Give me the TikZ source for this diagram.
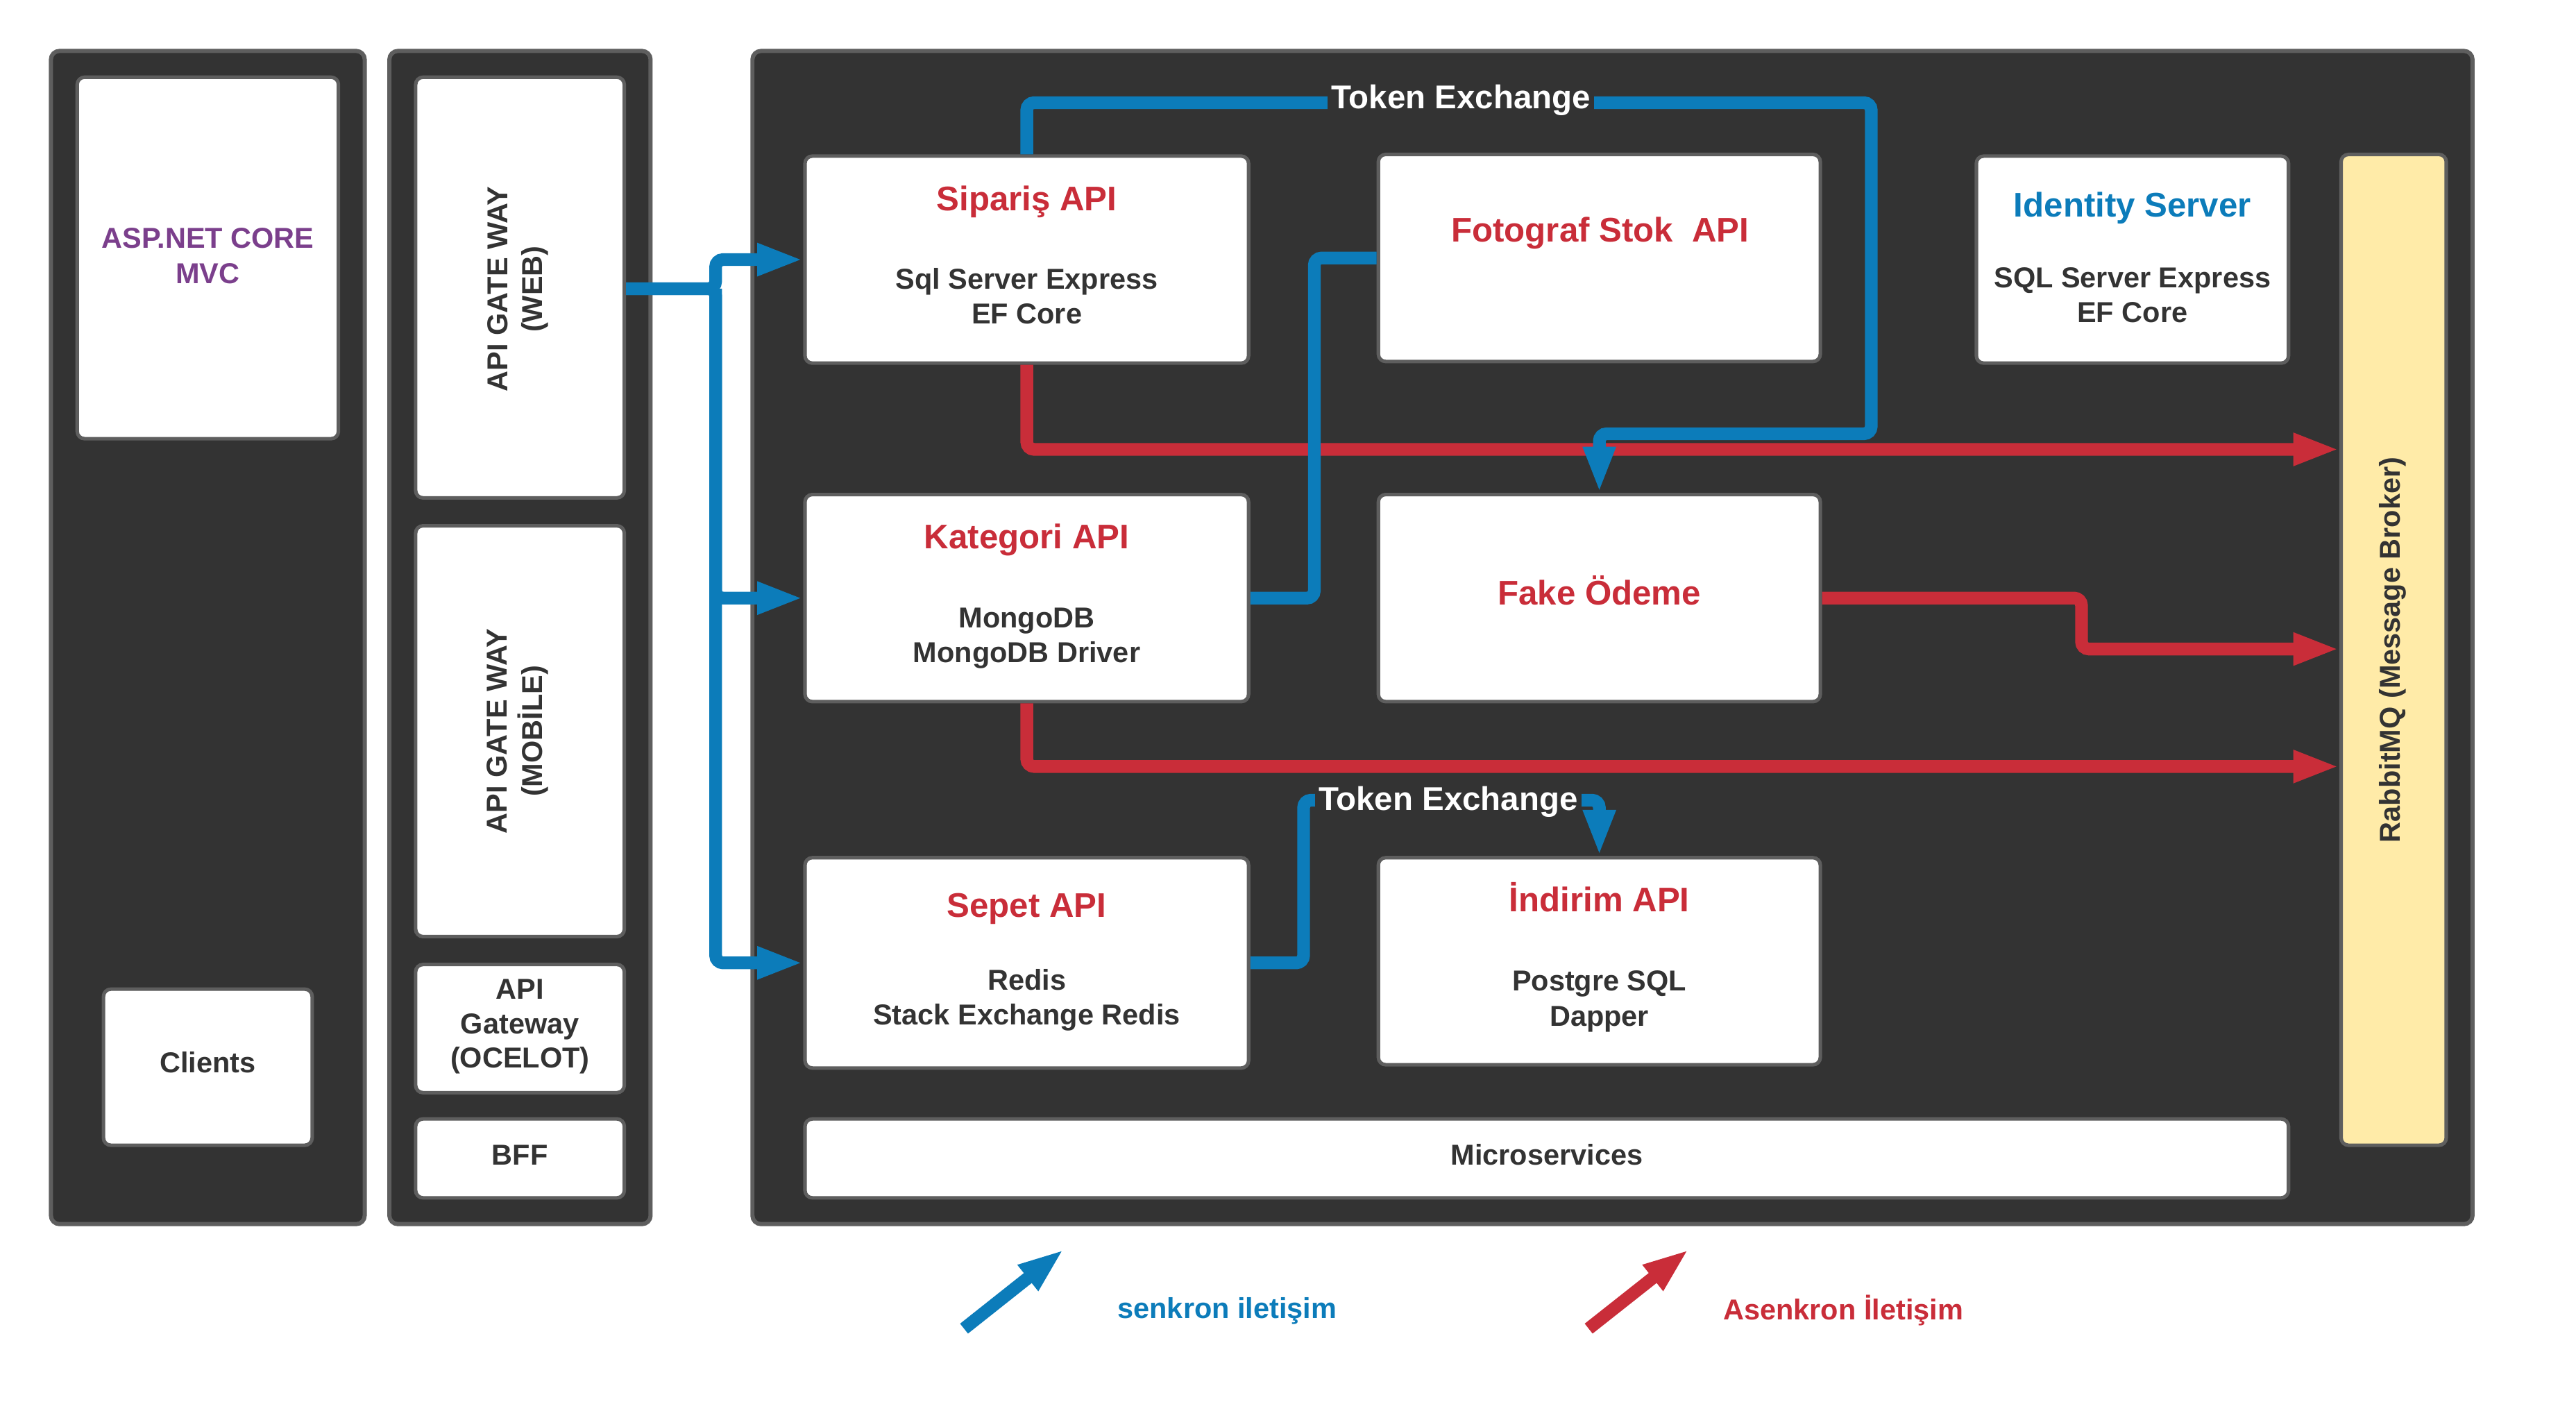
\documentclass[tikz,border=0pt]{standalone}
\usepackage{fontspec}
\setmainfont{Liberation Sans}
\usetikzlibrary{arrows.meta}
\definecolor{panelfill}{HTML}{333333}
\definecolor{edgegray}{HTML}{5E5E5E}
\definecolor{lred}{HTML}{C92D39}
\definecolor{lblue}{HTML}{0C7CBA}
\definecolor{lpurple}{HTML}{7B3F8C}
\definecolor{ltext}{HTML}{333333}
\definecolor{lyellow}{HTML}{FFEBA8}
\newlength\pxu
\setlength\pxu{0.02367cm}
\newcommand\fTitle{\fontsize{14}{17}\selectfont\bfseries}
\newcommand\fBody{\fontsize{11.8}{14.2}\selectfont\bfseries}
\newcommand\fToken{\fontsize{13.5}{16}\selectfont\bfseries}
\tikzset{
  panel/.style={draw=edgegray, line width=1.7pt, fill=panelfill, rounded corners=3.5pt, inner sep=0pt},
  wbox/.style={draw=edgegray, line width=1.45pt, fill=white, rounded corners=3pt, inner sep=0pt},
  ybox/.style={wbox, fill=lyellow},
  sz/.style 2 args={minimum width=#1\pxu, minimum height=#2\pxu},
  ttl/.style={font=\fTitle, text=lred, anchor=base, inner sep=0pt},
  bdy/.style={font=\fBody, text=ltext, anchor=base, inner sep=0pt},
  conn/.style={line width=5.2pt, rounded corners=3pt},
  sync/.style={conn, draw=lblue},
  async/.style={conn, draw=lred},
  tip/.style={-{Triangle[length=18.9pt,width=12.2pt]}},
  tok/.style={font=\fToken, text=white, fill=panelfill, inner xsep=1.5pt, inner ysep=2pt, anchor=base},
}
\begin{document}
\begin{tikzpicture}[x=0.02367cm, y=-0.02367cm]
\fill[white] (0,0) rectangle (1568,853);
\useasboundingbox (0,0) rectangle (1568,853);

% panels
\node[panel, sz={191}{714}] (clientpanel) at (126.5,388) {};
\node[panel, sz={159}{714}] (gwpanel) at (316.5,388) {};
\node[panel, sz={1047}{714}] (mspanel) at (981.5,388) {};

% client column
\node[wbox, sz={159}{220}] (asp) at (126.5,157) {};
\node[bdy, text=lpurple] (aspL1) at (126.5,151) {ASP.NET CORE};
\node[bdy, text=lpurple] (aspL2) at (126.5,172.4) {MVC};
\node[wbox, sz={127}{95}] (clients) at (126.5,649.5) {};
\node[bdy] (clientsL) at (126.5,653) {Clients};

% gateway column
\node[wbox, sz={127}{256}] (web) at (316.5,175) {};
\node[bdy, rotate=90] (webL1) at (309,176) {API GATE WAY};
\node[bdy, rotate=90] (webL2) at (330,176) {(WEB)};
\node[wbox, sz={127}{250}] (mob) at (316.5,445) {};
\node[bdy, rotate=90] (mobL1) at (308.6,445) {API GATE WAY};
\node[bdy, rotate=90] (mobL2) at (330,445) {(MOBİLE)};
\node[wbox, sz={127}{78}] (ocelot) at (316.5,626) {};
\node[bdy] (ocL1) at (316.5,608) {API};
\node[bdy] (ocL2) at (316.5,629) {Gateway};
\node[bdy] (ocL3) at (316.5,650) {(OCELOT)};
\node[wbox, sz={127}{48}] (bff) at (316.5,705) {};
\node[bdy] (bffL) at (316.5,709) {BFF};

% microservices
\node[wbox, sz={270}{126}] (sip) at (625,158) {};
\node[ttl] (sipT) at (625,128) {Sipariş API};
\node[bdy] (sipB1) at (625,176) {Sql Server Express};
\node[bdy] (sipB2) at (625,197) {EF Core};

\node[wbox, sz={269}{126}] (foto) at (973.5,157) {};
\node[ttl] (fotoT) at (974,147) {Fotograf Stok\ \ API};

\node[wbox, sz={190}{126}] (ident) at (1298,158) {};
\node[ttl, text=lblue] (identT) at (1298,132) {Identity Server};
\node[bdy] (identB1) at (1298,175) {SQL Server Express};
\node[bdy] (identB2) at (1298,196) {EF Core};

\node[ybox, sz={64}{603}] (rab) at (1457,395.5) {};
\node[bdy, rotate=90] (rabL) at (1461,395.5) {RabbitMQ (Message Broker)};

\node[wbox, sz={270}{126}] (kat) at (625,364) {};
\node[ttl] (katT) at (625,334) {Kategori API};
\node[bdy] (katB1) at (625,382) {MongoDB};
\node[bdy] (katB2) at (625,403) {MongoDB Driver};

\node[wbox, sz={269}{126}] (fake) at (973.5,364) {};
\node[ttl] (fakeT) at (973.5,368) {Fake Ödeme};

\node[wbox, sz={270}{128}] (sepet) at (625,586) {};
\node[ttl] (sepetT) at (625,558) {Sepet API};
\node[bdy] (sepetB1) at (625,602.5) {Redis};
\node[bdy] (sepetB2) at (625,623.5) {Stack Exchange Redis};

\node[wbox, sz={269}{126}] (indirim) at (973.5,585) {};
\node[ttl] (indT) at (973.5,555) {İndirim API};
\node[bdy] (indB1) at (973.5,603) {Postgre SQL};
\node[bdy] (indB2) at (973.5,624.5) {Dapper};

\node[wbox, sz={903}{48}] (micro) at (941.5,705) {};
\node[bdy] (microL) at (941.5,709) {Microservices};

% asynchronous connectors
\coordinate (r1) at (0,273.5);
\draw[async, tip] (sip.south) |- (rab.west |- r1);
\coordinate (r2) at (1267,395);
\draw[async, tip] (fake.east) -| (r2) -- (rab.west |- r2);
\coordinate (r3) at (0,466.5);
\draw[async, tip] (kat.south) |- (rab.west |- r3);

% synchronous connectors
\coordinate (gj) at (435.6,175.7);
\draw[sync, tip] (web.east |- gj) -- (gj) |- (sip.west);
\draw[sync, tip] (web.east |- gj) -- (gj) |- (kat.west);
\draw[sync, tip] (gj) |- (sepet.west);

\coordinate (tk1) at (1139,62.5);
\coordinate (tk2) at (1139,264);
\draw[sync, tip] (sip.north) |- (tk1) -- (tk2) -| (fake.north);

\coordinate (kf) at (800,157);
\draw[sync] (kat.east) -| (kf) -- (foto.west);

\coordinate (si) at (793.5,487);
\draw[sync, tip] (sepet.east) -| (si) -| (indirim.north);

% token exchange labels
\node[tok] (tokA) at (889.3,66) {Token Exchange};
\node[tok] (tokB) at (881.5,493) {Token Exchange};

% legend
\coordinate (lgb1) at (586.8,808.6);
\coordinate (lgb2) at (647.6,760.4);
\draw[sync, tip, rounded corners=0pt] (lgb1) -- (lgb2);
\node[bdy, text=lblue] (lgbL) at (747,802.5) {senkron iletişim};
\coordinate (lgr1) at (967,808.6);
\coordinate (lgr2) at (1028,760.4);
\draw[async, tip, rounded corners=0pt] (lgr1) -- (lgr2);
\node[bdy, text=lred] (lgrL) at (1122,803) {Asenkron İletişim};
\end{tikzpicture}
\end{document}
